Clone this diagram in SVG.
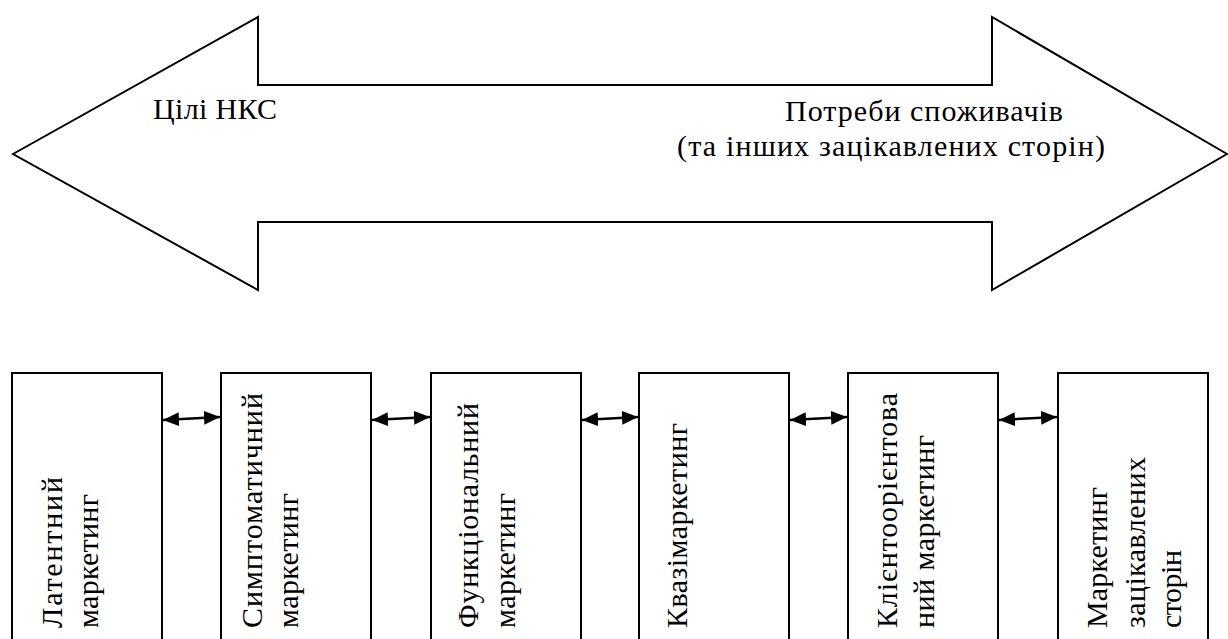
<svg xmlns="http://www.w3.org/2000/svg" width="1228" height="639" viewBox="0 0 1228 639">
  <defs>
    <marker id="head" viewBox="0 0 16 14" refX="16" refY="7" markerWidth="16" markerHeight="14" markerUnits="userSpaceOnUse" orient="auto-start-reverse">
      <path d="M0,0 L16,7 L0,14 Z" fill="#000000"/>
    </marker>
  </defs>
  <rect width="1228" height="639" fill="#ffffff"/>

  <!-- double-headed block arrow -->
  <g id="goals-needs" font-size="30">
    <polygon points="13,154 258,17 258,85 992,85 992,17 1227,154 992,290 992,222 258,222 258,290" fill="#ffffff" stroke="#000000" stroke-width="2"/>
    <text x="153" y="119" font-family="Liberation Serif" textLength="124">Цілі НКС</text>
    <text x="785" y="121" font-family="Liberation Serif" textLength="278">Потреби споживачів</text>
    <text x="677" y="156" font-family="Liberation Serif" textLength="428">(та інших зацікавлених сторін)</text>
  </g>

  <!-- marketing stages: boxes run off the bottom edge, labels read bottom-to-top -->
  <g id="stages" fill="#ffffff" stroke="#000000" stroke-width="2">
    <rect id="latent-box" x="12" y="373" width="150" height="280"/>
    <rect id="symptomatic-box" x="221" y="373" width="150" height="280"/>
    <rect id="functional-box" x="431" y="373" width="150" height="280"/>
    <rect id="quasi-box" x="639" y="373" width="150" height="280"/>
    <rect id="client-box" x="848" y="373" width="150" height="280"/>
    <rect id="stakeholder-box" x="1058" y="373" width="150" height="280"/>
  </g>
  <g id="stage-labels" font-size="30">
    <g id="latent">
      <text font-family="Liberation Serif" transform="translate(62,628) rotate(-90)" textLength="151">Латентний</text>
      <text font-family="Liberation Serif" transform="translate(98,628) rotate(-90)" textLength="134">маркетинг</text>
    </g>
    <g id="symptomatic">
      <text font-family="Liberation Serif" transform="translate(262,628) rotate(-90)" textLength="235">Симптоматичний</text>
      <text font-family="Liberation Serif" transform="translate(298,628) rotate(-90)" textLength="135">маркетинг</text>
    </g>
    <g id="functional">
      <text font-family="Liberation Serif" transform="translate(478,628) rotate(-90)" textLength="225">Функціональний</text>
      <text font-family="Liberation Serif" transform="translate(515,628) rotate(-90)" textLength="135">маркетинг</text>
    </g>
    <g id="quasi">
      <text font-family="Liberation Serif" transform="translate(687,628) rotate(-90)" textLength="205">Квазімаркетинг</text>
    </g>
    <g id="client-oriented">
      <text font-family="Liberation Serif" transform="translate(897,628) rotate(-90)" textLength="235">Клієнтоорієнтова</text>
      <text font-family="Liberation Serif" transform="translate(934,628) rotate(-90)" textLength="193">ний маркетинг</text>
    </g>
    <g id="stakeholder">
      <text font-family="Liberation Serif" transform="translate(1107,628) rotate(-90)" textLength="141">Маркетинг</text>
      <text font-family="Liberation Serif" transform="translate(1145,628) rotate(-90)" textLength="171">зацікавлених</text>
      <text font-family="Liberation Serif" transform="translate(1181,628) rotate(-90)" textLength="78">сторін</text>
    </g>
  </g>

  <!-- two-way links between neighbouring stages -->
  <g id="links" stroke="#000000" stroke-width="2.5" fill="none" marker-start="url(#head)" marker-end="url(#head)">
    <line x1="163" y1="420" x2="220" y2="417"/>
    <line x1="372" y1="420" x2="430" y2="417"/>
    <line x1="582" y1="420" x2="638" y2="417"/>
    <line x1="790" y1="420" x2="847" y2="417"/>
    <line x1="999" y1="420" x2="1057" y2="417"/>
  </g>
</svg>
